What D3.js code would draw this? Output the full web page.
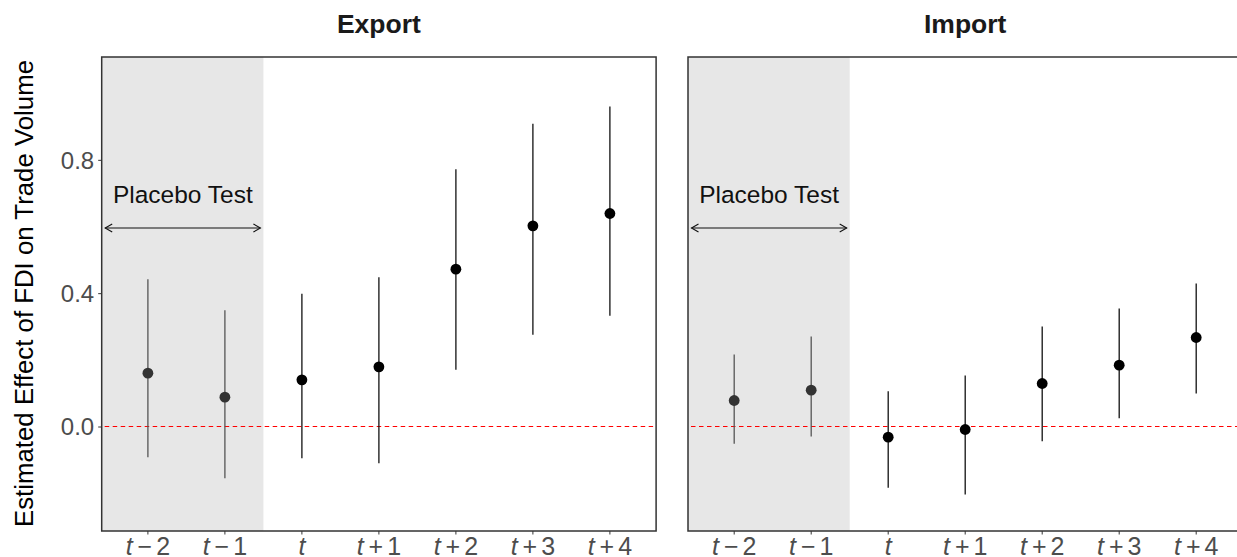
<!DOCTYPE html>
<html>
<head>
<meta charset="utf-8">
<script src="https://cdn.jsdelivr.net/npm/d3@7"></script>
<style>
  body { margin: 0; background: #fff; }
  text { font-family: "Liberation Sans", Arial, sans-serif; }
</style>
</head>
<body>
<div id="root"></div>
<script>
// data
var periods = ["t-2", "t-1", "t", "t+1", "t+2", "t+3", "t+4"];
var placebo = ["t-2", "t-1"];
var panels = ["Export", "Import"];

var exportEst   = [0.160, 0.088, 0.140, 0.179, 0.472, 0.602, 0.639];
var exportLower = [-0.092, -0.155, -0.095, -0.110, 0.170, 0.275, 0.332];
var exportUpper = [0.442, 0.349, 0.398, 0.448, 0.772, 0.908, 0.960];

var importEst   = [0.078, 0.109, -0.032, -0.009, 0.129, 0.184, 0.267];
var importLower = [-0.052, -0.030, -0.184, -0.204, -0.044, 0.025, 0.099];
var importUpper = [0.216, 0.270, 0.106, 0.153, 0.300, 0.354, 0.429];

var yTicks = [0.0, 0.4, 0.8];

var width = 1237, height = 557;
var panelW = 554.4, panelTop = 57, panelBottom = 531;
var panelLeft = [101.7, 688];

var svg = d3.select("#root").append("svg")
    .attr("width", width)
    .attr("height", height);

var y = d3.scaleLinear()
    .domain([-0.3135, 1.1085])
    .range([panelBottom, panelTop]);

function rows(est, lo, hi) {
    return periods.map(function (p, i) {
        return { period: p, est: est[i], lo: lo[i], hi: hi[i], placebo: placebo.indexOf(p) >= 0 };
    });
}
var panelData = [rows(exportEst, exportLower, exportUpper), rows(importEst, importLower, importUpper)];

// tick label like R plotmath: italic t, spaced operator, number
function tickLabel(sel, p) {
    var t = sel.append("text")
        .attr("text-anchor", "middle")
        .style("font-size", "25px")
        .style("fill", "#4d4d4d");
    t.append("tspan").style("font-style", "italic").text("t");
    if (p.length > 1) {
        var op = p[1] === "-" ? "\u2212" : "+";
        t.append("tspan").attr("dx", 5).text(op);
        t.append("tspan").attr("dx", 4).text(p.slice(2));
    }
}

panels.forEach(function (name, k) {
    var x0 = panelLeft[k];
    var x = d3.scalePoint()
        .domain(periods)
        .range([x0, x0 + panelW])
        .padding(0.6);
    var step = x.step();

    var g = svg.append("g").classed("panel", true);

    // shaded placebo region
    g.append("rect")
        .attr("x", x0)
        .attr("y", panelTop)
        .attr("width", x(placebo[placebo.length - 1]) + step / 2 - x0)
        .attr("height", panelBottom - panelTop)
        .style("fill", "#e7e7e7");

    // zero line
    g.append("line")
        .attr("x1", x0 + 3).attr("x2", x0 + panelW - 3)
        .attr("y1", y(0)).attr("y2", y(0))
        .style("stroke", "red")
        .style("stroke-width", 1.1)
        .style("stroke-dasharray", "4.5,3.5");

    // placebo arrow + label
    var ax1 = x0 + 3.5, ax2 = x(placebo[placebo.length - 1]) + step / 2 - 3;
    var ay = 228;
    g.append("line")
        .attr("x1", ax1).attr("x2", ax2)
        .attr("y1", ay).attr("y2", ay)
        .style("stroke", "#111").style("stroke-width", 1.1);
    g.append("path")
        .attr("d", "M" + (ax1 + 7) + "," + (ay - 4) + "L" + ax1 + "," + ay + "L" + (ax1 + 7) + "," + (ay + 4))
        .style("fill", "none").style("stroke", "#111").style("stroke-width", 1.1);
    g.append("path")
        .attr("d", "M" + (ax2 - 7) + "," + (ay - 4) + "L" + ax2 + "," + ay + "L" + (ax2 - 7) + "," + (ay + 4))
        .style("fill", "none").style("stroke", "#111").style("stroke-width", 1.1);
    g.append("text")
        .attr("x", (ax1 + ax2) / 2)
        .attr("y", 203)
        .attr("text-anchor", "middle")
        .style("font-size", "24.5px")
        .style("fill", "#111")
        .text("Placebo Test");

    // error bars
    g.selectAll(".bar")
        .data(panelData[k])
        .enter()
        .append("line")
        .classed("bar", true)
        .attr("x1", function (d) { return x(d.period); })
        .attr("x2", function (d) { return x(d.period); })
        .attr("y1", function (d) { return y(d.lo); })
        .attr("y2", function (d) { return y(d.hi); })
        .style("stroke", function (d) { return d.placebo ? "#555" : "#111"; })
        .style("stroke-width", 1.3);

    // points
    g.selectAll(".pt")
        .data(panelData[k])
        .enter()
        .append("circle")
        .classed("pt", true)
        .attr("cx", function (d) { return x(d.period); })
        .attr("cy", function (d) { return y(d.est); })
        .attr("r", 5.4)
        .style("fill", function (d) { return d.placebo ? "#333" : "#000"; });

    // border
    g.append("rect")
        .attr("x", x0).attr("y", panelTop)
        .attr("width", panelW).attr("height", panelBottom - panelTop)
        .style("fill", "none")
        .style("stroke", "#333")
        .style("stroke-width", 1.5);

    // x axis ticks + labels
    var xAxis = g.append("g").attr("transform", "translate(0," + panelBottom + ")");
    periods.forEach(function (p) {
        xAxis.append("line")
            .attr("x1", x(p)).attr("x2", x(p))
            .attr("y1", 0).attr("y2", 3.5)
            .style("stroke", "#333").style("stroke-width", 1);
        var lab = xAxis.append("g").attr("transform", "translate(" + x(p) + ",23.5)");
        tickLabel(lab, p);
    });

    // facet title
    g.append("text")
        .attr("x", x0 + panelW / 2)
        .attr("y", 33)
        .attr("text-anchor", "middle")
        .style("font-size", "26.5px")
        .style("font-weight", "bold")
        .style("fill", "#1a1a1a")
        .text(name);

    // y axis on first panel only
    if (k === 0) {
        var yAxis = d3.axisLeft(y)
            .tickValues(yTicks)
            .tickSize(3.5)
            .tickFormat(d3.format(".1f"));
        var ya = svg.append("g")
            .attr("transform", "translate(" + x0 + ",0)")
            .call(yAxis);
        ya.select(".domain").remove();
        ya.selectAll(".tick line").style("stroke", "#333");
        ya.selectAll(".tick text")
            .attr("x", -7.5)
            .attr("dy", "0.35em")
            .style("font-family", "Liberation Sans, Arial, sans-serif")
            .style("font-size", "24px")
            .style("fill", "#4d4d4d");
    }
});

// y axis title
svg.append("text")
    .attr("transform", "translate(33," + ((60 + 527) / 2) + ") rotate(-90)")
    .attr("text-anchor", "middle")
    .style("font-size", "25.8px")
    .style("fill", "#000")
    .text("Estimated Effect of FDI on Trade Volume");
</script>
</body>
</html>
